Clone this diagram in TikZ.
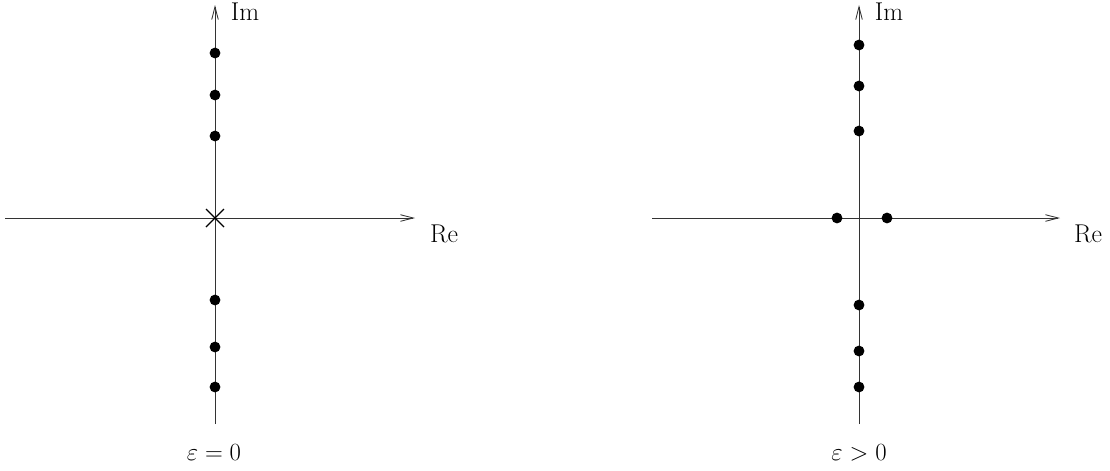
\documentclass[tikz,border=0pt]{standalone}
\usetikzlibrary{arrows.meta}
\begin{document}
\begin{tikzpicture}[x=0.7pt,y=-0.7pt,
  axis/.style={line width=0.6pt,draw=black!80,-{Straight Barb[length=9pt,width=4.6pt,line width=0.6pt]}},
  pole/.style={circle,fill=black,inner sep=0pt,minimum size=7.6pt},
  lbl/.style={inner sep=0pt,font=\fontsize{18}{21}\selectfont},
  cross/.style={line width=0.9pt}]
\useasboundingbox (0,0) rectangle (1110,470);

% left plane: epsilon = 0
\coordinate (lxs) at (5,218);
\coordinate (lxe) at (415,218);
\coordinate (lys) at (215,424);
\coordinate (lye) at (215,5);
\draw[axis] (lxs) -- (lxe);
\draw[axis] (lys) -- (lye);
\node[lbl] (lre) at (444,234) {Re};
\node[lbl] (lim) at (245,12) {Im};
\foreach \y [count=\i] in {53,95,136,300,347,387}
  \node[pole] (lp\i) at (215,\y) {};
\coordinate (lo) at (215,218);
\draw[cross] ([shift={(-9,-9)}]lo) -- ([shift={(9,9)}]lo);
\draw[cross] ([shift={(-9,9)}]lo) -- ([shift={(9,-9)}]lo);
\node[lbl] (leps) at (214,453) {$\varepsilon=0$};

% right plane: epsilon > 0
\coordinate (rxs) at (652,218);
\coordinate (rxe) at (1060,218);
\coordinate (rys) at (859,424);
\coordinate (rye) at (859,5);
\draw[axis] (rxs) -- (rxe);
\draw[axis] (rys) -- (rye);
\node[lbl] (rre) at (1088,234) {Re};
\node[lbl] (rim) at (889,12) {Im};
\foreach \y [count=\i] in {45,86,131,305,351,387}
  \node[pole] (rp\i) at (859,\y) {};
\node[pole] (rl) at (837,218) {};
\node[pole] (rr) at (887,218) {};
\node[lbl] (reps) at (859,453) {$\varepsilon>0$};
\end{tikzpicture}
\end{document}
